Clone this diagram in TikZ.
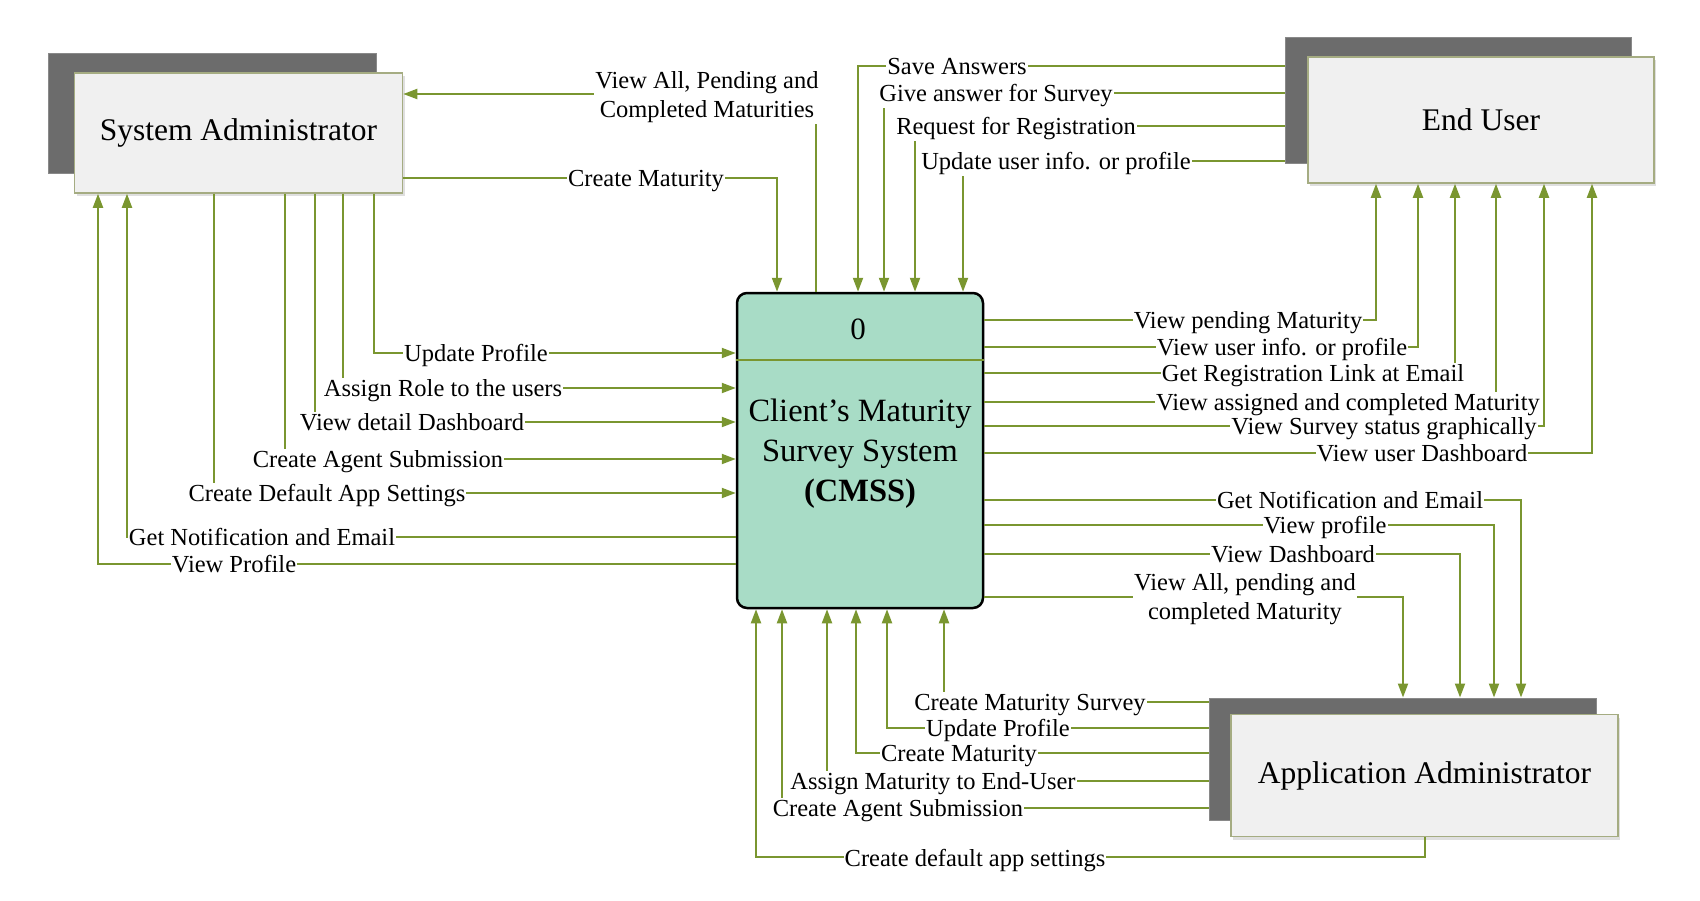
\documentclass[tikz,border=0pt]{standalone}
\usepackage{fontspec}
\setmainfont{Liberation Serif}
\usetikzlibrary{arrows.meta,shadows}

\definecolor{flowgreen}{RGB}{122,150,48}
\definecolor{cmssfill}{RGB}{168,220,198}
\definecolor{boxfill}{RGB}{240,240,240}
\definecolor{boxline}{RGB}{165,172,130}
\definecolor{shadefill}{RGB}{108,108,108}

\tikzset{
  flow/.style={draw=flowgreen,line width=2pt,-{Triangle[length=14pt,width=10pt]}},
  plain/.style={draw=flowgreen,line width=2pt},
  lbl/.style={fill=white,inner sep=1pt,text height=17pt,text depth=6pt,yshift=-2.5pt,
    font=\fontsize{24.5}{30}\selectfont},
  lbltwo/.style={fill=white,inner sep=1pt,align=center,font=\fontsize{24.5}{29}\selectfont},
  shadebox/.style={draw=shadefill!80!white,line width=1pt,fill=shadefill},
  entbox/.style={draw=boxline,line width=1.5pt,fill=boxfill,
    drop shadow={shadow xshift=2pt,shadow yshift=-3pt,fill=black!25},
    font=\fontsize{31.5}{36}\selectfont},
  process/.style={draw=black,line width=2.5pt,fill=cmssfill,rounded corners=10pt,
    minimum width=246pt,minimum height=315pt,align=center,font=\fontsize{32.5}{40}\selectfont}
}

\begin{document}
\begin{tikzpicture}[x=1pt,y=-1pt]
\useasboundingbox (0,0) rectangle (1700,900);
\newcommand\entity[6]{
\node[shadebox,minimum width=#4,minimum height=#5] (#1sh) at (#2) {};
\node[entbox,minimum width=#4,minimum height=#5] (#1) at (#3) {#6};
}
\entity{sa}{212,113}{238.5,133}{328pt}{120pt}{System Administrator}
\entity{eu}{1458,100}{1481,120}{346pt}{126pt}{End User}
\entity{aa}{1402.5,759}{1424.5,775.5}{387pt}{122pt}{Application Administrator}

\node[process] (cm) at (860,450.5) {};
\node[align=center,font=\fontsize{32.5}{40}\selectfont] (cmname) at (860,454)
  {Client’s Maturity\\Survey System\\\textbf{(CMSS)}};
\node[font=\fontsize{31}{36}\selectfont] (cmno) at (858,329) {0};
\draw[plain] (cm.west |- 0,360) -- (cm.east |- 0,360);

\draw[flow] (cm.north -| 816,0) |- (sa.east |- 0,94);
\node[lbltwo] (saview) at (707,97) {View All, Pending and\\Completed Maturities};
\draw[flow] (sa.east |- 0,178) -| (cm.north -| 777,0);
\node[lbl] (sacreate) at (646,178) {Create Maturity};

\foreach \i/\x/\y/\lx/\t in {1/374/353/476/Update Profile,2/343/388/443/Assign Role to the users,
  3/315/422/412/View detail Dashboard,4/285/459/378/Create Agent Submission,
  5/214/493/327/Create Default App Settings} {
\draw[flow] (sa.south -| \x,0) |- (cm.west |- 0,\y);
\node[lbl] (saIn\i) at (\lx,\y) {\t};
}
\foreach \i/\x/\y/\lx/\t in {1/127/537/262/Get Notification and Email,2/98/564/234/View Profile} {
\draw[flow] (cm.west |- 0,\y) -| (sa.south -| \x,0);
\node[lbl] (saOut\i) at (\lx,\y) {\t};
}

\foreach \i/\x/\y/\lx/\t in {1/858/66/957/Save Answers,2/884/93/996/Give answer for Survey,
  3/915/126/1016/Request for Registration,4/963/161/1056/Update user info. or profile} {
\draw[flow] (eush.west |- 0,\y) -| (cm.north -| \x,0);
\node[lbl] (euIn\i) at (\lx,\y) {\t};
}
\foreach \i/\x/\y/\lx/\t in {1/1376/320/1248/View pending Maturity,2/1418/347/1282/View user info. or profile,
  3/1455/373/1313/Get Registration Link at Email,4/1496/402/1348/View assigned and completed Maturity,
  5/1544/426/1384/View Survey status graphically,6/1592/453/1422/View user Dashboard} {
\draw[flow] (cm.east |- 0,\y) -| (eu.south -| \x,0);
\node[lbl] (euOut\i) at (\lx,\y) {\t};
}

\foreach \i/\x/\y/\lx/\t in {1/1521/500/1350/Get Notification and Email,2/1494/525/1325/View profile,
  3/1460/554/1293/View Dashboard} {
\draw[flow] (cm.east |- 0,\y) -| (aash.north -| \x,0);
\node[lbl] (aaOut\i) at (\lx,\y) {\t};
}
\draw[flow] (cm.east |- 0,597) -| (aash.north -| 1403,0);
\node[lbltwo] (aaOut4) at (1245,599) {View All, pending and\\completed Maturity};

\foreach \i/\x/\y/\lx/\t in {1/944/702/1030/Create Maturity Survey,2/887/728/998/Update Profile,
  3/856/753/959/Create Maturity,4/827/781/933/Assign Maturity to End-User,
  5/782/808/898/Create Agent Submission} {
\draw[flow] (aash.west |- 0,\y) -| (cm.south -| \x,0);
\node[lbl] (aaIn\i) at (\lx,\y) {\t};
}
\draw[flow] (aa.south) -- ++(0,20) -| (cm.south -| 756,0);
\node[lbl] (aaIn6) at (975,858) {Create default app settings};
\end{tikzpicture}
\end{document}
